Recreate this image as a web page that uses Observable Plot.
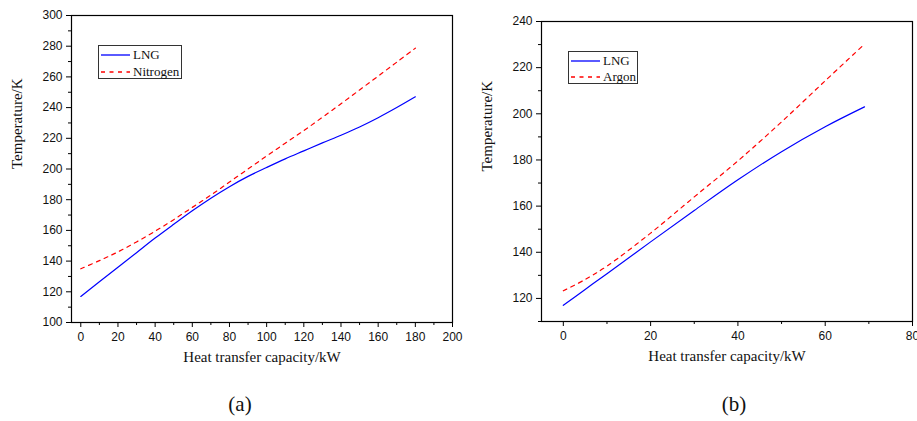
<!DOCTYPE html>
<html>
<head>
<meta charset="utf-8">
<script src="https://cdn.jsdelivr.net/npm/d3@7"></script>
<script src="https://cdn.jsdelivr.net/npm/@observablehq/plot@0.6"></script>
<style>
  html, body { margin: 0; padding: 0; background: #fff; }
  #wrap { position: relative; width: 917px; height: 421px; overflow: hidden; background: #fff; }
  .chart { position: absolute; top: 0; }
  .legend { position: absolute; border: 1px solid #333; background: #fff; box-sizing: border-box;
            font-family: "Liberation Serif", "Times New Roman", serif; font-size: 13px; color: #111; }
  .legend .row { position: absolute; left: 0; height: 14px; display: flex; align-items: center; white-space: nowrap; }
  .legend svg { display: block; }
  .caption { position: absolute; font-family: "Liberation Serif", "Times New Roman", serif; font-size: 21px; color: #111;
             transform: translate(-50%, -50%); }
</style>
</head>
<body>
<div id="wrap"></div>
<script>
// ---------- Data ----------
// Chart (a): LNG vs Nitrogen
const capacityA = [0, 10, 20, 30, 40, 50, 60, 70, 80, 90, 100, 110, 120, 130, 140, 150, 160, 170, 180];
const lngA      = [117, 126.5, 136, 145.5, 155, 164, 172.8, 181, 188.5, 195.2, 201, 206.6, 211.8, 217, 222, 227.4, 233.4, 240, 247];
const nitrogenA = [135, 140.3, 146, 152.5, 159.5, 167, 175, 183, 191.5, 200, 208.5, 216.8, 225, 233.7, 242.5, 251.5, 260.5, 269.6, 278.7];

// Chart (b): LNG vs Argon
const capacityB = [0, 5, 10, 20, 30, 40, 50, 60, 69];
const lngB      = [117, 123.9, 130.7, 144.5, 158.1, 171.4, 183.6, 194.4, 203];
const argonB    = [123.3, 128.2, 134, 148.3, 164, 179.6, 196.5, 214.3, 230.2];

// Ticks
const xMajorA = [0, 20, 40, 60, 80, 100, 120, 140, 160, 180, 200];
const xMinorA = [10, 30, 50, 70, 90, 110, 130, 150, 170, 190];
const yMajorA = [100, 120, 140, 160, 180, 200, 220, 240, 260, 280, 300];
const yMinorA = [110, 130, 150, 170, 190, 210, 230, 250, 270, 290];
const xMajorB = [0, 20, 40, 60, 80];
const xMinorB = [10, 30, 50, 70];
const yMajorB = [120, 140, 160, 180, 200, 220, 240];
const yMinorB = [110, 130, 150, 170, 190, 210, 230];

const xTitle = "Heat transfer capacity/kW";
const yTitle = "Temperature/K";

const toRows = (xs, ys) => xs.map((x, i) => ({x, y: ys[i]}));

const BLUE = "#0000ff";
const RED = "#ff0000";
const serif = "Liberation Serif, Times New Roman, serif";

function makeChart({width, height, margins, xDomain, yDomain, xMajor, xMinor, yMajor, yMinor, solid, dashed}) {
  return Plot.plot({
    width, height,
    marginLeft: margins[0], marginRight: margins[1], marginTop: margins[2], marginBottom: margins[3],
    x: {domain: xDomain},
    y: {domain: yDomain},
    style: {fontFamily: "Liberation Sans, Arial, sans-serif", fontSize: "12px", color: "#111", overflow: "visible", background: "transparent"},
    marks: [
      Plot.axisY({ticks: yMajor, tickSize: 5, tickPadding: 4, label: null, stroke: "#000"}),
      Plot.axisY({ticks: yMinor, tickSize: 3, tickFormat: () => "", label: null, stroke: "#000"}),
      Plot.axisX({ticks: xMajor, tickSize: 5, tickPadding: 5, label: null, stroke: "#000"}),
      Plot.axisX({ticks: xMinor, tickSize: 3, tickFormat: () => "", label: null, stroke: "#000"}),
      Plot.frame({stroke: "#000", strokeWidth: 1.2}),
      Plot.line(solid, {x: "x", y: "y", stroke: BLUE, strokeWidth: 1.2, curve: "catmull-rom"}),
      Plot.line(dashed, {x: "x", y: "y", stroke: RED, strokeWidth: 1.2, strokeDasharray: "4,4.5", curve: "catmull-rom"}),
      Plot.text([xTitle], {text: d => d, frameAnchor: "bottom", dy: 39.5, fontFamily: serif, fontSize: 15, fill: "#111"}),
      Plot.text([yTitle], {text: d => d, frameAnchor: "left", rotate: -90, dx: -54, fontFamily: serif, fontSize: 15, fill: "#111"})
    ]
  });
}

const wrap = document.getElementById("wrap");

const chartA = makeChart({
  width: 460, height: 380, margins: [71, 8, 15, 58],
  xDomain: [-5, 200], yDomain: [100, 300],
  xMajor: xMajorA, xMinor: xMinorA, yMajor: yMajorA, yMinor: yMinorA,
  solid: toRows(capacityA, lngA), dashed: toRows(capacityA, nitrogenA)
});
chartA.classList.add("chart");
chartA.style.left = "0px";
wrap.appendChild(chartA);

const chartB = makeChart({
  width: 457, height: 380, margins: [81, 5, 21, 59],
  xDomain: [-5, 80], yDomain: [110, 240],
  xMajor: xMajorB, xMinor: xMinorB, yMajor: yMajorB, yMinor: yMinorB,
  solid: toRows(capacityB, lngB), dashed: toRows(capacityB, argonB)
});
chartB.classList.add("chart");
chartB.style.left = "460px";
wrap.appendChild(chartB);

// ---------- Legends ----------
function legend(left, top, w, h, rows) {
  const box = document.createElement("div");
  box.className = "legend";
  Object.assign(box.style, {left: left + "px", top: top + "px", width: w + "px", height: h + "px"});
  rows.forEach((r, i) => {
    const row = document.createElement("div");
    row.className = "row";
    row.style.top = (r.top - 7) + "px";
    row.innerHTML = `<svg width="34" height="14"><line x1="2" x2="31" y1="7" y2="7" stroke="${r.color}" stroke-width="1.3" ${r.dash ? 'stroke-dasharray="4,4.5"' : ''}/></svg><span>${r.label}</span>`;
    box.appendChild(row);
  });
  wrap.appendChild(box);
}
legend(98, 45, 84, 34, [
  {label: "LNG", color: BLUE, dash: false, top: 9},
  {label: "Nitrogen", color: RED, dash: true, top: 26}
]);
legend(568, 51, 70, 33, [
  {label: "LNG", color: BLUE, dash: false, top: 9},
  {label: "Argon", color: RED, dash: true, top: 25}
]);

// ---------- Captions ----------
const captions = [{text: "(a)", x: 240, y: 404}, {text: "(b)", x: 734, y: 404}];
captions.forEach(c => {
  const d = document.createElement("div");
  d.className = "caption";
  d.textContent = c.text;
  d.style.left = c.x + "px";
  d.style.top = c.y + "px";
  wrap.appendChild(d);
});
</script>
</body>
</html>
